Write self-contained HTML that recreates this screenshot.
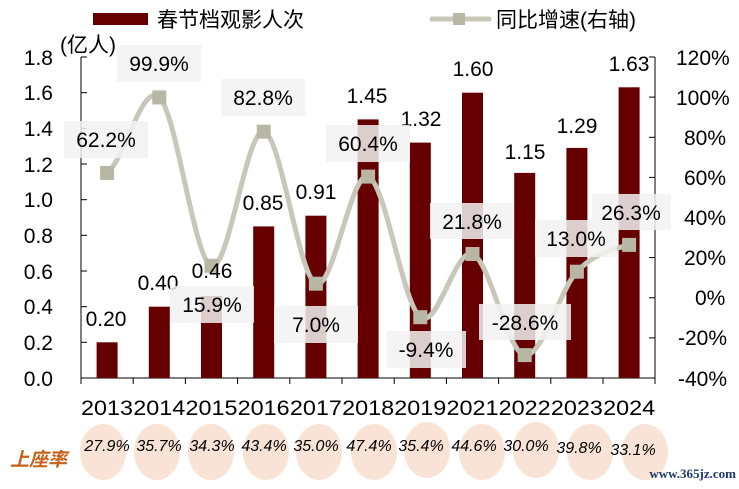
<!DOCTYPE html>
<html><head><meta charset="utf-8"><style>
body{margin:0;background:#fff;}
svg{display:block;font-family:"Liberation Sans","Noto Sans CJK SC",sans-serif;}
</style></head><body>
<svg width="739" height="489" viewBox="0 0 739 489" xmlns="http://www.w3.org/2000/svg">
<!-- legend -->
<rect x="93" y="13" width="55" height="12" fill="#660000"/>
<text x="157" y="27" font-size="21" fill="#000">春节档观影人次</text>
<line x1="432" y1="19" x2="489" y2="19" stroke="#c8c7ba" stroke-width="5" stroke-linecap="round"/>
<rect x="453" y="13" width="12" height="12" fill="#b8b6a4"/>
<text x="496" y="27" font-size="21" fill="#000">同比增速(右轴)</text>
<text x="60" y="52" font-size="21">(亿人)</text>
<!-- axes -->
<g stroke="#000" stroke-width="1">
<line x1="81" y1="57" x2="81" y2="378"/>
<line x1="655" y1="57" x2="655" y2="378"/>
<line x1="81" y1="378" x2="655" y2="378"/>
<line x1="81" y1="57" x2="87" y2="57"/><line x1="81" y1="92.7" x2="87" y2="92.7"/><line x1="81" y1="128.3" x2="87" y2="128.3"/><line x1="81" y1="164" x2="87" y2="164"/><line x1="81" y1="199.7" x2="87" y2="199.7"/><line x1="81" y1="235.3" x2="87" y2="235.3"/><line x1="81" y1="271" x2="87" y2="271"/><line x1="81" y1="306.7" x2="87" y2="306.7"/><line x1="81" y1="342.3" x2="87" y2="342.3"/>
<line x1="649" y1="57" x2="655" y2="57"/><line x1="649" y1="97.1" x2="655" y2="97.1"/><line x1="649" y1="137.3" x2="655" y2="137.3"/><line x1="649" y1="177.4" x2="655" y2="177.4"/><line x1="649" y1="217.5" x2="655" y2="217.5"/><line x1="649" y1="257.6" x2="655" y2="257.6"/><line x1="649" y1="297.8" x2="655" y2="297.8"/><line x1="649" y1="337.9" x2="655" y2="337.9"/>
<line x1="133.2" y1="378" x2="133.2" y2="384"/><line x1="185.4" y1="378" x2="185.4" y2="384"/><line x1="237.6" y1="378" x2="237.6" y2="384"/><line x1="289.8" y1="378" x2="289.8" y2="384"/><line x1="342" y1="378" x2="342" y2="384"/><line x1="394.2" y1="378" x2="394.2" y2="384"/><line x1="446.4" y1="378" x2="446.4" y2="384"/><line x1="498.6" y1="378" x2="498.6" y2="384"/><line x1="550.8" y1="378" x2="550.8" y2="384"/><line x1="603" y1="378" x2="603" y2="384"/><line x1="81" y1="378" x2="81" y2="384"/><line x1="655" y1="378" x2="655" y2="384"/>
</g>
<g font-size="21" text-anchor="end">
<text x="53" y="65">1.8</text><text x="53" y="100">1.6</text><text x="53" y="136">1.4</text><text x="53" y="172">1.2</text><text x="53" y="207">1.0</text><text x="53" y="243">0.8</text><text x="53" y="279">0.6</text><text x="53" y="314">0.4</text><text x="53" y="350">0.2</text><text x="53" y="386">0.0</text>
</g>
<g font-size="21" text-anchor="start">
<text x="676" y="65">120%</text><text x="676" y="105">100%</text><text x="684" y="145">80%</text><text x="684" y="185">60%</text><text x="684" y="225">40%</text><text x="684" y="265">20%</text><text x="695" y="305">0%</text><text x="678" y="345">-20%</text><text x="678" y="386">-40%</text>
</g>
<g font-size="21" text-anchor="middle">
<text x="107" y="415" textLength="52" lengthAdjust="spacingAndGlyphs">2013</text><text x="159.3" y="415" textLength="52" lengthAdjust="spacingAndGlyphs">2014</text><text x="211.5" y="415" textLength="52" lengthAdjust="spacingAndGlyphs">2015</text><text x="263.7" y="415" textLength="52" lengthAdjust="spacingAndGlyphs">2016</text><text x="315.9" y="415" textLength="52" lengthAdjust="spacingAndGlyphs">2017</text><text x="368.1" y="415" textLength="52" lengthAdjust="spacingAndGlyphs">2018</text><text x="420.3" y="415" textLength="52" lengthAdjust="spacingAndGlyphs">2019</text><text x="472.5" y="415" textLength="52" lengthAdjust="spacingAndGlyphs">2021</text><text x="524.7" y="415" textLength="52" lengthAdjust="spacingAndGlyphs">2022</text><text x="576.9" y="415" textLength="52" lengthAdjust="spacingAndGlyphs">2023</text><text x="629.1" y="415" textLength="52" lengthAdjust="spacingAndGlyphs">2024</text>
</g>
<!-- bars -->
<g fill="#660000">
<rect x="96.6" y="342.3" width="21" height="35.7"/>
<rect x="148.8" y="306.7" width="21" height="71.3"/>
<rect x="201" y="296" width="21" height="82"/>
<rect x="253.2" y="226.4" width="21" height="151.6"/>
<rect x="305.4" y="215.7" width="21" height="162.3"/>
<rect x="357.6" y="119.4" width="21" height="258.6"/>
<rect x="409.8" y="142.6" width="21" height="235.4"/>
<rect x="462" y="92.7" width="21" height="285.3"/>
<rect x="514.2" y="172.9" width="21" height="205.1"/>
<rect x="566.4" y="147.9" width="21" height="230.1"/>
<rect x="618.6" y="87.3" width="21" height="290.7"/>
</g>
<!-- line -->
<path d="M107.1,173 C124.5,160.4 141.9,81.9 159.3,97.4 C176.7,112.9 194.1,260.1 211.5,265.8 C228.9,271.5 246.3,128.7 263.7,131.7 C281.1,134.7 298.5,276.2 315.9,283.7 C333.3,291.2 350.7,171 368.1,176.6 C385.5,182.2 402.9,304.3 420.3,317.2 C437.7,330.1 455.1,247.7 472.5,254 C489.9,260.3 507.3,352.2 524.7,355.1 C542.1,358 559.5,290.1 576.9,271.7 C594.3,253.3 611.7,249.4 629.1,244.9" fill="none" stroke="#c8c7ba" stroke-width="5"/>
<g fill="#b8b6a4">
<rect x="100.1" y="166" width="14" height="14"/><rect x="152.3" y="90.4" width="14" height="14"/><rect x="204.5" y="258.8" width="14" height="14"/><rect x="256.7" y="124.7" width="14" height="14"/><rect x="308.9" y="276.7" width="14" height="14"/><rect x="361.1" y="169.6" width="14" height="14"/><rect x="413.3" y="310.2" width="14" height="14"/><rect x="465.5" y="247" width="14" height="14"/><rect x="517.7" y="348.1" width="14" height="14"/><rect x="569.9" y="264.7" width="14" height="14"/><rect x="622.1" y="237.9" width="14" height="14"/>
</g>
<!-- bar labels -->
<g font-size="21" text-anchor="middle">
<text x="106" y="326">0.20</text><text x="158" y="290">0.40</text><text x="212" y="278">0.46</text><text x="263" y="210">0.85</text><text x="316" y="199">0.91</text><text x="367" y="103">1.45</text><text x="421" y="126">1.32</text><text x="473" y="76">1.60</text><text x="525" y="159">1.15</text><text x="577" y="133">1.29</text><text x="629" y="71">1.63</text>
</g>
<!-- pct labels -->
<g fill="#f2f2f2" fill-opacity="0.85">
<rect x="64" y="121" width="84" height="37"/><rect x="117" y="45" width="84" height="37"/><rect x="170" y="286" width="84" height="37"/><rect x="221" y="79" width="84" height="37"/><rect x="274" y="306" width="84" height="37"/><rect x="326" y="125" width="84" height="37"/><rect x="387" y="331" width="79" height="37"/><rect x="430" y="203" width="83" height="36"/><rect x="479" y="304" width="92" height="36"/><rect x="535" y="220" width="82" height="37"/><rect x="592" y="194" width="79" height="36"/>
</g>
<g font-size="21" text-anchor="middle">
<text x="106" y="147">62.2%</text><text x="159" y="71">99.9%</text><text x="212" y="312">15.9%</text><text x="263" y="105">82.8%</text><text x="316" y="332">7.0%</text><text x="368" y="151">60.4%</text><text x="426" y="357">-9.4%</text><text x="472" y="229">21.8%</text><text x="525" y="330">-28.6%</text><text x="576" y="246">13.0%</text><text x="631" y="220">26.3%</text>
</g>
<!-- bottom -->
<g fill="#f9e3d6">
<ellipse cx="103" cy="452" rx="23" ry="28"/><ellipse cx="157" cy="452" rx="23" ry="28"/><ellipse cx="211" cy="452" rx="23" ry="28"/><ellipse cx="266" cy="452" rx="23" ry="28"/><ellipse cx="319" cy="452" rx="23" ry="28"/><ellipse cx="374" cy="452" rx="23" ry="28"/><ellipse cx="427" cy="450" rx="23" ry="28"/><ellipse cx="482" cy="452" rx="23" ry="28"/><ellipse cx="536" cy="450" rx="23" ry="28"/><ellipse cx="590" cy="452" rx="23" ry="28"/><ellipse cx="645" cy="452" rx="23" ry="28"/>
</g>
<g font-size="16" font-style="italic" text-anchor="middle" fill="#000">
<text x="107" y="451">27.9%</text><text x="159" y="451">35.7%</text><text x="212" y="451">34.3%</text><text x="264" y="451">43.4%</text><text x="316" y="451">35.0%</text><text x="369" y="451">47.4%</text><text x="421" y="451">35.4%</text><text x="474" y="451">44.6%</text><text x="526" y="451">30.0%</text><text x="579" y="453">39.8%</text><text x="633" y="455">33.1%</text>
</g>
<text x="10" y="466" font-size="19" font-weight="bold" font-style="italic" fill="#c8601a">上座率</text>
<text x="736" y="478" font-size="13" text-anchor="end" fill="#1f3a6e" font-family="Liberation Serif,serif" font-weight="bold">www.365jz.com</text>
</svg>
</body></html>
